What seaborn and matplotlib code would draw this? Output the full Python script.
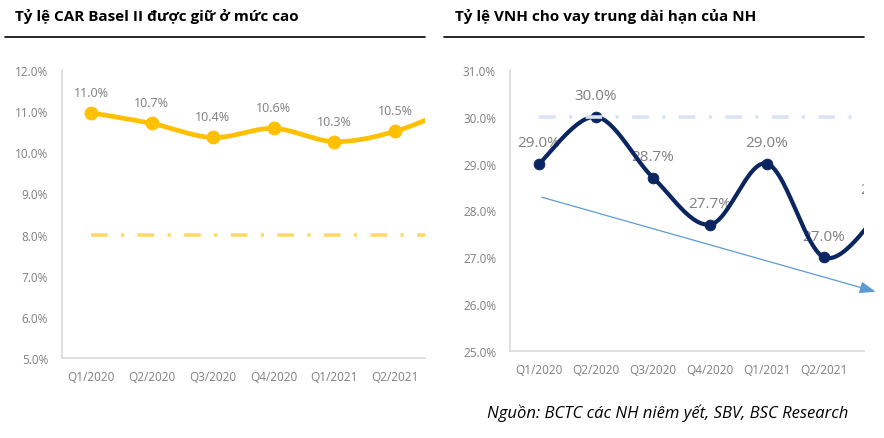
import numpy as np
import pandas as pd
import matplotlib
matplotlib.use('Agg')
import matplotlib.pyplot as plt
import seaborn as sns

# data
quarters = ["Q1/2020", "Q2/2020", "Q3/2020", "Q4/2020", "Q1/2021", "Q2/2021", "Q3/2021"]
car_ratio = [10.96, 10.70, 10.36, 10.58, 10.26, 10.51, 11.10]
car_min = 8.0
stl_ratio = [29.0, 30.0, 28.7, 27.7, 29.0, 27.0, 28.0]
stl_cap = 30.0
trend_start = (0.0, 28.3)
trend_end = (5.95, 26.25)

car_title = "Tỷ lệ CAR Basel II được giữ ở mức cao"
stl_title = "Tỷ lệ VNH cho vay trung dài hạn của NH"
source_text = "Nguồn: BCTC các NH niêm yết, SBV, BSC Research"

sns.set_theme(style="white")
plt.rcParams['font.family'] = ['Open Sans', 'DejaVu Sans']

GREY = "#7f7f7f"
SPINE = "#d9d9d9"
DASHDOT = (0, (4.6, 3.7, 0.9, 3.7))


def excel_smooth(y, steps=30):
    # bezier smoothing like the spreadsheet "smoothed line" option
    x = np.arange(len(y), dtype=float)
    y = np.asarray(y, dtype=float)
    pts = np.column_stack([x, y])
    n = len(pts)
    out = []
    for i in range(n - 1):
        p0 = pts[max(i - 1, 0)]
        p1 = pts[i]
        p2 = pts[i + 1]
        p3 = pts[min(i + 2, n - 1)]
        c1 = p1 + (p2 - p0) / 6
        c2 = p2 - (p3 - p1) / 6
        t = np.linspace(0, 1, steps)[:, None]
        seg = ((1 - t) ** 3) * p1 + 3 * ((1 - t) ** 2) * t * c1 + 3 * (1 - t) * t ** 2 * c2 + t ** 3 * p2
        out.append(seg if i == 0 else seg[1:])
    seg = np.vstack(out)
    return pd.DataFrame({"x": seg[:, 0], "y": seg[:, 1]})


def style_axes(ax, ylim, yticks, xlim, pad):
    ax.set_xlim(*xlim)
    ax.set_ylim(*ylim)
    ax.set_yticks(yticks)
    ax.set_yticklabels([f"{v:.1f}%" for v in yticks], color=GREY, fontsize=8.5)
    ax.set_xticks(range(len(quarters) - 1))
    ax.set_xticklabels(quarters[:-1], color=GREY, fontsize=8.5)
    ax.tick_params(axis='x', pad=pad, length=0)
    ax.tick_params(axis='y', pad=10, length=0)
    for s in ["top", "right"]:
        ax.spines[s].set_visible(False)
    for s in ["left", "bottom"]:
        ax.spines[s].set_color(SPINE)
        ax.spines[s].set_linewidth(1.2)
    ax.set_xlabel("")
    ax.set_ylabel("")
    ax.grid(False)


fig = plt.figure(figsize=(8.84, 4.39), dpi=100)

# ---- left: CAR ----
ax1 = fig.add_axes([62 / 884, 1 - 359 / 439, 363 / 884, 288 / 439])
car_df = pd.DataFrame({"x": range(len(quarters)), "y": car_ratio})
ax1.plot([0, len(quarters)], [car_min, car_min], color="#ffd966", lw=2.6, linestyle=DASHDOT, zorder=2)
sns.lineplot(data=excel_smooth(car_ratio), x="x", y="y", ax=ax1, color="#ffc000", lw=3.4, sort=False, zorder=3)
sns.scatterplot(data=car_df, x="x", y="y", ax=ax1, color="#ffc000", s=85, edgecolor="#ffc000", zorder=4)
for i, v in enumerate(car_ratio):
    ax1.text(i, v + 0.5, f"{v:.1f}%", ha="center", va="center", color=GREY, fontsize=9, clip_on=True)
style_axes(ax1, (5.0, 12.0), np.arange(5.0, 12.01, 1.0), (-0.477, 5.49), 9)

# ---- right: short-term funds for medium/long-term loans ----
ax2 = fig.add_axes([510 / 884, 1 - 352 / 439, 354 / 884, 281 / 439])
stl_df = pd.DataFrame({"x": range(len(quarters)), "y": stl_ratio})
for i, v in enumerate(stl_ratio):
    ax2.text(i, v + 0.45, f"{v:.1f}%", ha="center", va="center", color=GREY, fontsize=11,
             zorder=1, clip_on=True)
sns.lineplot(data=excel_smooth(stl_ratio), x="x", y="y", ax=ax2, color="#0b2560", lw=3.0, sort=False, zorder=3)
sns.scatterplot(data=stl_df, x="x", y="y", ax=ax2, color="#0b2560", s=60, edgecolor="#0b2560", zorder=4)
ax2.plot([0, len(quarters)], [stl_cap, stl_cap], color="#dae3f3", lw=2.6, linestyle=DASHDOT, zorder=5)
ax2.annotate("", xy=trend_end, xytext=trend_start, annotation_clip=False,
             arrowprops=dict(arrowstyle="-|>,head_length=0.8,head_width=0.3", color="#5b9bd5", lw=0.9))
style_axes(ax2, (25.0, 31.0), np.arange(25.0, 31.01, 1.0), (-0.51, 5.70), 9)

# titles and rules
fig.text(15 / 884, 1 - 17 / 439, car_title, fontsize=11, fontweight="bold", va="center", ha="left", color="black")
fig.text(455 / 884, 1 - 17 / 439, stl_title, fontsize=11, fontweight="bold", va="center", ha="left", color="black")
fig.add_artist(plt.Line2D([5 / 884, 425 / 884], [1 - 38 / 439] * 2, color="black", lw=1.2))
fig.add_artist(plt.Line2D([444 / 884, 864 / 884], [1 - 38 / 439] * 2, color="black", lw=1.2))
fig.text(487 / 884, 1 - 413 / 439, source_text, fontsize=12, fontstyle="italic", va="center", ha="left", color="black")

fig.savefig("out.png", dpi=100)
